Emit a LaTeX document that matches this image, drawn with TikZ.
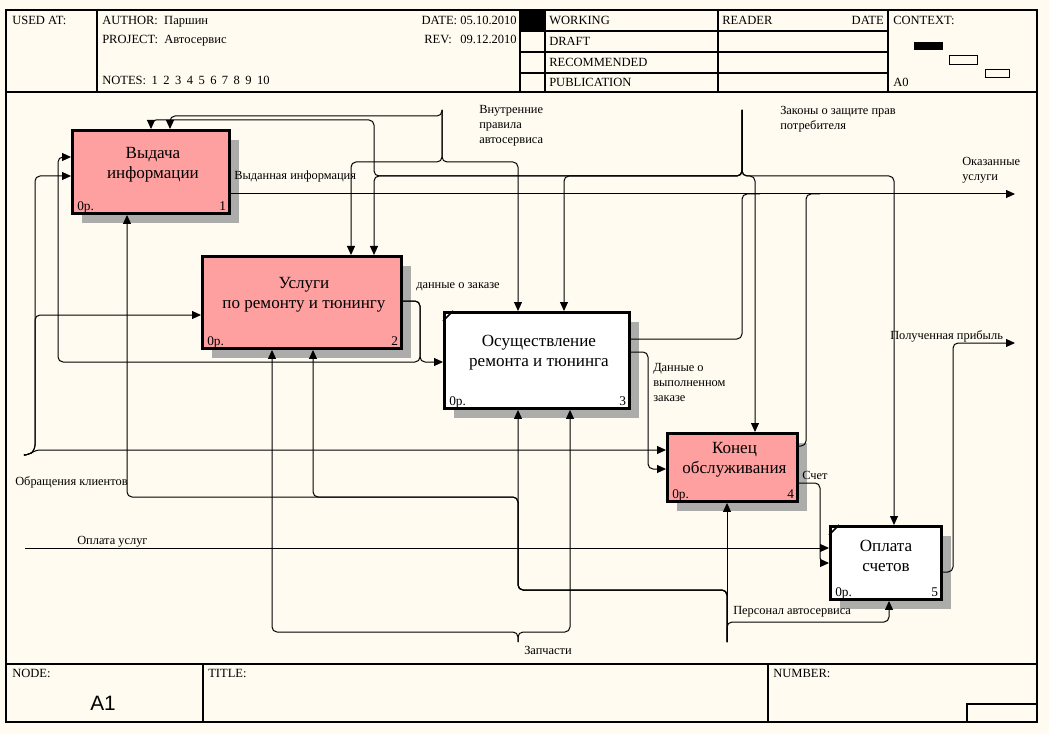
\documentclass[tikz,border=0pt]{standalone}
\usepackage{fontspec}
\setmainfont{Liberation Serif}
\newfontfamily\arialfont{Liberation Sans}
\usetikzlibrary{arrows.meta,shadows}
\definecolor{bgcream}{RGB}{255,251,240}
\definecolor{boxpink}{RGB}{255,160,160}
\definecolor{shadowgray}{RGB}{172,172,170}
\newcommand\nsp{\hspace{4.1pt}}
\begin{document}
\begin{tikzpicture}[x=0.75pt,y=-0.75pt,
  conn/.style={line width=0.75pt, rounded corners=3.75pt},
  arr/.style={conn, -{Triangle[length=6.75pt,width=6pt]}},
  frameline/.style={line width=1pt},
  fnbox/.style={draw, line width=2.2pt, rectangle, anchor=north west, inner sep=0pt,
     drop shadow={shadow xshift=7.5pt,shadow yshift=-7.5pt,opacity=1,fill=shadowgray}},
  pinkbox/.style={fnbox, fill=boxpink},
  whitebox/.style={fnbox, fill=white},
  boxtitle/.style={font=\fontsize{12.8}{15}\selectfont, align=center, inner sep=0pt},
  cornerlbl/.style={font=\fontsize{10}{12}\selectfont, inner sep=0pt},
  lbl/.style={font=\fontsize{9.3}{11.25}\selectfont, inner sep=0pt, align=left},
  hdr/.style={font=\fontsize{9.4}{11.25}\selectfont, inner sep=0pt, anchor=base west},
]
% page
\fill[bgcream] (0,0) rectangle (1049,734);
\useasboundingbox (0,0) rectangle (1049,734);

% ---------- frame / header ----------
\draw[frameline] (6,10) rectangle (1037,722);
\draw[frameline] (6,92) -- (1037,92);
\draw[frameline] (97,10) -- (97,92);
\draw[frameline] (520,10) -- (520,92);
\draw[frameline] (545,10) -- (545,92);
\draw[frameline] (718,10) -- (718,92);
\draw[frameline] (888,10) -- (888,92);
\foreach \yy in {31,52,73} \draw[frameline] (520,\yy) -- (888,\yy);
\fill (520,10) rectangle (545,31);
\fill (914,42) rectangle (943,50);
\draw[line width=0.75pt] (949,56) rectangle (977,65);
\draw[line width=0.75pt] (985,70) rectangle (1009,78);

\node[hdr] (hUsed) at (12,25) {USED AT:};
\node[hdr] (hAuth) at (102,25) {AUTHOR:\ \ Паршин};
\node[hdr] (hProj) at (102,44) {PROJECT:\ \ Автосервис};
\node[hdr] (hNotes) at (102,85) {NOTES:\nsp 1\nsp 2\nsp 3\nsp 4\nsp 5\nsp 6\nsp 7\nsp 8\nsp 9\nsp 10};
\node[hdr, anchor=base east] (hDate) at (517,25) {DATE: 05.10.2010};
\node[hdr] (hRev) at (424,44) {REV:};
\node[hdr, anchor=base east] (hRevD) at (517,44) {09.12.2010};
\node[hdr] (hWork) at (549,25) {WORKING};
\node[hdr] (hDraft) at (549,46) {DRAFT};
\node[hdr] (hRec) at (549,67) {RECOMMENDED};
\node[hdr] (hPub) at (549,87) {PUBLICATION};
\node[hdr] (hRead) at (722,25) {READER};
\node[hdr, anchor=base east] (hRDate) at (884,25) {DATE};
\node[hdr] (hCtx) at (893,25) {CONTEXT:};
\node[hdr] (hA0) at (893,87) {A0};

% ---------- footer ----------
\draw[frameline] (6,664) -- (1037,664);
\draw[frameline] (203,664) -- (203,722);
\draw[frameline] (768,664) -- (768,722);
\draw[frameline] (967,722) -- (967,704) -- (1037,704);
\node[hdr] (fNode) at (12,677) {NODE:};
\node[hdr] (fTitle) at (208,677) {TITLE:};
\node[hdr] (fNum) at (773,677) {NUMBER:};
\node[anchor=base, inner sep=0pt, font=\arialfont\fontsize{15.6}{18}\selectfont] (fA1) at (103,710) {A1};

% ---------- boxes ----------
\node[pinkbox, minimum width=157*0.75pt, minimum height=83*0.75pt] (b1) at (71,129) {};
\node[pinkbox, minimum width=199*0.75pt, minimum height=92*0.75pt] (b2) at (201,255) {};
\node[whitebox, minimum width=185*0.75pt, minimum height=96*0.75pt] (b3) at (443,311) {};
\node[pinkbox, minimum width=130*0.75pt, minimum height=68*0.75pt] (b4) at (666,432) {};
\node[whitebox, minimum width=111*0.75pt, minimum height=73*0.75pt] (b5) at (829,525) {};

\draw[line width=1.2pt] ([yshift=-7.5pt]b3.north west) -- ([xshift=7.5pt]b3.north west);
\draw[line width=1.2pt] ([yshift=-7.5pt]b5.north west) -- ([xshift=7.5pt]b5.north west);

\node[boxtitle] (t1) at ([shift={(1.5pt,5.6pt)}]b1.center) {Выдача\\информации};
\node[boxtitle] (t2) at ([shift={(1.5pt,5.6pt)}]b2.center) {Услуги\\по ремонту и тюнингу};
\node[boxtitle] (t3) at ([shift={(1.5pt,5.6pt)}]b3.center) {Осуществление\\ремонта и тюнинга};
\node[boxtitle] (t4) at ([shift={(1.5pt,5.6pt)}]b4.center) {Конец\\обслуживания};
\node[boxtitle] (t5) at ([shift={(0pt,5.6pt)}]b5.center) {Оплата\\счетов};

\foreach \b/\n in {b1/1,b2/2,b3/3,b4/4,b5/5}{
  \node[cornerlbl, anchor=base west] (c\b) at ([shift={(4.5pt,3pt)}]\b.south west) {0р.};
  \node[cornerlbl, anchor=base east] (n\b) at ([shift={(-3.5pt,3pt)}]\b.south east) {\n};
}

% ---------- free ends ----------
\coordinate (inObr) at (25,455);
\coordinate (inOpl) at (25,548);
\coordinate (ctlVn) at (442,110);
\coordinate (ctlZak) at (742,110);
\coordinate (mecPer) at (727,642);
\coordinate (mecZap) at (518,642);
\coordinate (outOk) at (1015,194);
\coordinate (outPr) at (1015,343);

% ---------- connectors ----------
% Обращения клиентов
\draw[arr] (inObr) -- (29,455) -- (35,450) -- (b4.west |- 0,450);
\draw[arr] (inObr) -- (29,455) -- (35,450) -- (35,176) -- (b1.west |- 0,176);
\draw[arr] (inObr) -- (29,455) -- (35,450) -- (35,315) -- (b2.west |- 0,315);
% Оплата услуг
\draw[arr] (inOpl) -- (b5.west |- 0,548);
% Выданная информация / Оказанные услуги
\draw[arr] (b1.east |- 0,194) -- (outOk);
\draw[conn] (b3.east |- 0,339) -- (742,339) -- (742,194) -- (760,194);
\draw[conn] (b4.east |- 0,446) -- (806,446) -- (806,194) -- (820,194);
% данные о заказе
\draw[arr] (b2.east |- 0,301) -- (420,301) -- (420,362) -- (b3.west |- 0,362);
\draw[arr] (b2.east |- 0,301) -- (420,301) -- (420,362) -- (58,362) -- (58,157) -- (b1.west |- 0,157);
% Данные о выполненном заказе
\draw[arr] (b3.east |- 0,352) -- (648,352) -- (648,469) -- (b4.west |- 0,469);
% Счет
\draw[arr] (b4.east |- 0,483) -- (820,483) -- (820,563) -- (b5.west |- 0,563);
% Полученная прибыль
\draw[arr] (b5.east |- 0,572) -- (953,572) -- (953,343) -- (outPr);
% Внутренние правила автосервиса
\draw[arr] (ctlVn) -- (442,116) -- (170,116) -- (b1.north -| 170,0);
\draw[arr] (ctlVn) -- (442,162) -- (351,162) -- (b2.north -| 351,0);
\draw[arr] (ctlVn) -- (442,162) -- (518,162) -- (b3.north -| 518,0);
% Законы о защите прав потребителя
\draw[arr] (ctlZak) -- (742,176) -- (374,176) -- (374,120) -- (151,120) -- (b1.north -| 151,0);
\draw[arr] (ctlZak) -- (742,176) -- (374,176) -- (b2.north -| 374,0);
\draw[arr] (ctlZak) -- (742,176) -- (564,176) -- (b3.north -| 564,0);
\draw[arr] (ctlZak) -- (742,176) -- (755,176) -- (b4.north -| 755,0);
\draw[arr] (ctlZak) -- (742,176) -- (894,176) -- (b5.north -| 894,0);
% Персонал автосервиса
\draw[arr] (mecPer) -- (b4.south -| 727,0);
\draw[arr] (mecPer) -- (727,622) -- (889,622) -- (b5.south -| 889,0);
\draw[arr] (mecPer) -- (727,590) -- (518,590) -- (b3.south -| 518,0);
\draw[arr] (mecPer) -- (727,590) -- (518,590) -- (518,497) -- (127,497) -- (b1.south -| 127,0);
\draw[arr] (mecPer) -- (727,590) -- (518,590) -- (518,497) -- (313,497) -- (b2.south -| 313,0);
% Запчасти
\draw[arr] (mecZap) -- (518,632) -- (272,632) -- (b2.south -| 272,0);
\draw[arr] (mecZap) -- (518,632) -- (570,632) -- (b3.south -| 570,0);

% ---------- labels ----------
\node[lbl, anchor=base west] (lVyd) at (234,180) {Выданная информация};
\node[lbl, anchor=base west] (lDz) at (416,289) {данные о заказе};
\node[lbl, anchor=north west] (lVn) at (479,105.5) {Внутренние\\правила\\автосервиса};
\node[lbl, anchor=north west] (lZak) at (780,106.5) {Законы о защите прав\\потребителя};
\node[lbl, anchor=north west] (lOk) at (962,157.5) {Оказанные\\услуги};
\node[lbl, anchor=base west] (lPr) at (890,339) {Полученная прибыль};
\node[lbl, anchor=north west] (lDv) at (653,363.5) {Данные о\\выполненном\\заказе};
\node[lbl, anchor=base west] (lSch) at (802,479) {Счет};
\node[lbl, anchor=base west] (lObr) at (15,485) {Обращения клиентов};
\node[lbl, anchor=base west] (lOpl) at (77,544) {Оплата услуг};
\node[lbl, anchor=base west] (lPer) at (733,614) {Персонал автосервиса};
\node[lbl, anchor=base west] (lZap) at (524,654) {Запчасти};
\end{tikzpicture}
\end{document}
